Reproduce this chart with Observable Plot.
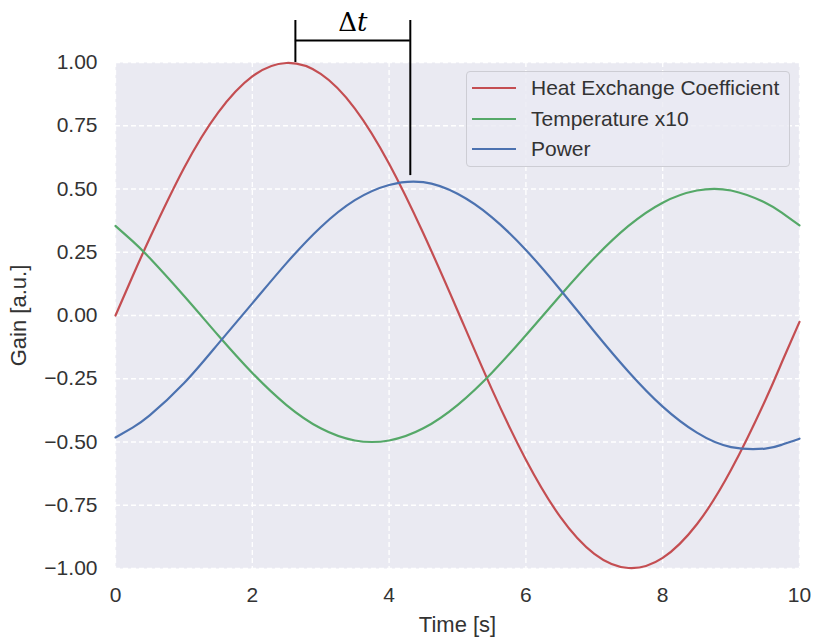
<!DOCTYPE html>
<html><head><meta charset="utf-8">
<script src="https://cdn.jsdelivr.net/npm/d3@7"></script>
<script src="https://cdn.jsdelivr.net/npm/@observablehq/plot@0.6"></script>
<style>
body{margin:0;background:#fff;font-family:"Liberation Sans",Arial,sans-serif;}
#wrap{position:relative;width:813px;height:641px;}
#legend{position:absolute;left:466px;top:71px;width:324px;height:96px;border:1px solid #cdcdd4;border-radius:4px;background:rgba(234,234,242,0.8);box-sizing:border-box;}
#legend .row{position:absolute;left:0;height:30px;width:100%;}
#legend .sw{position:absolute;left:5px;top:14px;width:44px;height:2px;}
#legend .lb{position:absolute;left:64px;top:2px;font-size:21px;color:#333;white-space:nowrap;line-height:25px;}
</style></head><body><div id="wrap"></div>
<script>
const time = [0,0.25,0.5,1,1.5,2,2.5,3,3.5,4,4.5,5,5.5,6,6.5,7,7.5,8,8.5,9,9.5,9.75,10];
const heatExchange = [0.0,0.155,0.305,0.582,0.802,0.945,0.998,0.955,0.818,0.600,0.325,0.02,-0.29,-0.57,-0.795,-0.942,-0.998,-0.958,-0.825,-0.61,-0.335,-0.18,-0.025];
const temperature = [0.354,0.294,0.227,0.078,-0.078,-0.227,-0.354,-0.446,-0.494,-0.494,-0.446,-0.354,-0.227,-0.078,0.078,0.227,0.354,0.446,0.494,0.494,0.446,0.405,0.356];
const power = [-0.482,-0.443,-0.395,-0.268,-0.112,0.048,0.207,0.349,0.456,0.516,0.527,0.481,0.389,0.259,0.103,-0.063,-0.222,-0.36,-0.463,-0.52,-0.526,-0.51,-0.487];
const seriesNames = ["Heat Exchange Coefficient","Temperature x10","Power"];
const seriesColors = ["#C44E52","#55A868","#4C72B0"];
const xTicks = [0,2,4,6,8,10];
const yTicks = [-1,-0.75,-0.5,-0.25,0,0.25,0.5,0.75,1];
// Δt annotation: time of the red peak and of the blue peak
const peakTimes = [2.63, 4.31];
const peakValues = [1.0, 0.553];
const bracketTop = 1.166;
const bracketBar = 1.087;
const deltaLabel = "Δt";

const seriesValues = [heatExchange, temperature, power];
const rows = [];
seriesNames.forEach((s, k) => time.forEach((t, i) => rows.push({t, v: seriesValues[k][i], s})));

const gridStyle = {stroke: "#fff", strokeOpacity: 1, strokeWidth: 1.3, strokeDasharray: "5,3"};

const chart = Plot.plot({
  width: 813, height: 641,
  marginLeft: 115, marginRight: 14, marginTop: 62, marginBottom: 73,
  x: {domain: [0, 10]},
  y: {domain: [-1, 1]},
  color: {domain: seriesNames, range: seriesColors},
  style: {fontFamily: "'Liberation Sans', Arial, sans-serif", fontSize: "21px", color: "#333", background: "#fff", overflow: "visible"},
  marks: [
    Plot.frame({fill: "#EAEAF2", stroke: null}),
    Plot.gridX(xTicks, gridStyle),
    Plot.gridY(yTicks, gridStyle),
    Plot.axisX(xTicks, {tickSize: 0, tickPadding: 19, fontSize: 21, label: null}),
    Plot.axisY(yTicks, {tickSize: 0, tickPadding: 18, fontSize: 21, tickFormat: d3.format(".2f"), label: null}),
    Plot.axisX([], {tickSize: 0, fontSize: 22, label: "Time [s]", labelAnchor: "center", labelArrow: "none", labelOffset: 63}),
    Plot.axisY([], {tickSize: 0, fontSize: 22, label: "Gain [a.u.]", labelAnchor: "center", labelArrow: "none", labelOffset: 105}),
    Plot.line(rows, {x: "t", y: "v", z: "s", stroke: "s", curve: "natural", strokeWidth: 2.2}),
    Plot.ruleX([0, 1], {x: i => peakTimes[i], y1: i => peakValues[i], y2: bracketTop, stroke: "#000", strokeWidth: 2}),
    Plot.ruleY([bracketBar], {x1: peakTimes[0], x2: peakTimes[1], stroke: "#000", strokeWidth: 2}),
    Plot.text([deltaLabel], {x: (peakTimes[0] + peakTimes[1]) / 2, y: bracketBar, text: d => d, dy: -9, lineAnchor: "bottom", fontSize: 26, fill: "#000", fontFamily: "'DejaVu Serif', serif", className: "dt"})
  ]
});
document.getElementById("wrap").appendChild(chart);

// render Δ upright and t italic
d3.select(chart).selectAll("g.dt text").each(function() {
  const t = d3.select(this);
  const s = t.text();
  t.text(null);
  t.append("tspan").text(s.slice(0, 1));
  t.append("tspan").attr("font-style", "italic").text(s.slice(1));
});

// legend
const legend = document.createElement("div");
legend.id = "legend";
seriesNames.forEach((name, i) => {
  const row = document.createElement("div");
  row.className = "row";
  row.style.top = (1 + i * 30.5) + "px";
  const sw = document.createElement("div");
  sw.className = "sw";
  sw.style.background = seriesColors[i];
  const lb = document.createElement("div");
  lb.className = "lb";
  lb.textContent = name;
  row.appendChild(sw); row.appendChild(lb);
  legend.appendChild(row);
});
document.getElementById("wrap").appendChild(legend);
</script></body></html>
